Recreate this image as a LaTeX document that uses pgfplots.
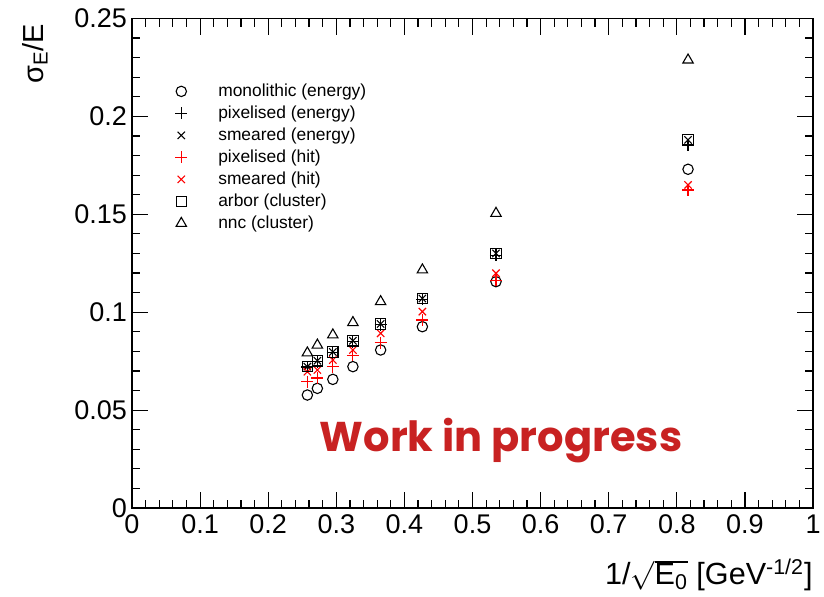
\documentclass[border=0pt]{standalone}
\usepackage{fontspec}
\setmainfont{Liberation Sans}
\newfontfamily\wipfont{Poppins}
\usepackage{pgfplots}
\pgfplotsset{compat=1.18}
\definecolor{wipred}{RGB}{200,34,34}
\begin{document}
\begin{tikzpicture}
\begin{axis}[
  scale only axis, width=340.5pt, height=244.75pt,
  xmin=0, xmax=1, ymin=0, ymax=0.25,
  xtick={0,0.1,0.2,0.3,0.4,0.5,0.6,0.7,0.8,0.9,1},
  xticklabels={0,0.1,0.2,0.3,0.4,0.5,0.6,0.7,0.8,0.9,1},
  ytick={0,0.05,0.1,0.15,0.2,0.25},
  yticklabels={0,0.05,0.1,0.15,0.2,0.25},
  minor x tick num=4, minor y tick num=4,
  tick align=inside, tick pos=both,
  major tick length=8pt, minor tick length=4pt,
  axis line style={line width=0.6pt},
  every tick/.style={line width=0.6pt, black},
  ticklabel style={font=\fontsize{13.5}{15}\selectfont},
  yticklabel style={xshift=1pt},
  xlabel={1/$\sqrt{\mbox{E\textsubscript{0}}}$ [GeV\textsuperscript{-1/2}]},
  xlabel style={font=\fontsize{15.3}{17}\selectfont, at={(axis description cs:1,-0.137)}, anchor=east, inner sep=0pt},
  ylabel={σ\textsubscript{E}/E},
  ylabel style={font=\fontsize{14.5}{16}\selectfont, at={(axis description cs:-0.1425,0.99)}, anchor=east, inner sep=0pt},
  legend style={at={(axis cs:0.063,0.2186)}, anchor=north west, draw=none, fill=none, inner sep=0pt,
    font=\fontsize{8.7}{10}\selectfont, row sep=0pt, column sep=14pt,
    nodes={inner sep=1.5pt, text height=6.5pt, text depth=1.5pt}},
  legend cell align=left,
  legend image code/.code={\draw[#1, only marks, mark repeat=2, mark phase=2] plot coordinates {(0cm,0cm) (0.3cm,0cm) (0.6cm,0cm)};},
]
\addplot[only marks, mark=o, mark size=2.6pt, black, mark options={line width=0.55pt}] coordinates {
(0.2575,0.0577) (0.2722,0.0611) (0.2949,0.0657) (0.3244,0.0722) (0.3651,0.0807) (0.4264,0.0926) (0.5345,0.1156) (0.8165,0.1730)};
\addlegendentry{monolithic (energy)}
\addplot[only marks, mark=+, mark size=3pt, black, mark options={line width=0.55pt}] coordinates {
(0.2575,0.0720) (0.2722,0.0748) (0.2949,0.0793) (0.3244,0.0850) (0.3651,0.0935) (0.4264,0.1065) (0.5345,0.1290) (0.8165,0.1854)};
\addlegendentry{pixelised (energy)}
\addplot[only marks, mark=x, mark size=2.6pt, black, mark options={line width=0.55pt}] coordinates {
(0.2575,0.0722) (0.2722,0.0752) (0.2949,0.0797) (0.3244,0.0854) (0.3651,0.0940) (0.4264,0.1070) (0.5345,0.1300) (0.8165,0.1880)};
\addlegendentry{smeared (energy)}
\addplot[only marks, mark=+, mark size=3pt, red, mark options={line width=0.55pt}] coordinates {
(0.2575,0.0645) (0.2722,0.0664) (0.2949,0.0722) (0.3244,0.0781) (0.3651,0.0844) (0.4264,0.0960) (0.5345,0.1164) (0.8165,0.1624)};
\addlegendentry{pixelised (hit)}
\addplot[only marks, mark=x, mark size=2.6pt, red, mark options={line width=0.55pt}] coordinates {
(0.2575,0.0696) (0.2722,0.0705) (0.2949,0.0756) (0.3244,0.0807) (0.3651,0.0892) (0.4264,0.1003) (0.5345,0.1199) (0.8165,0.1650)};
\addlegendentry{smeared (hit)}
\addplot[only marks, mark=square, mark size=2.6pt, black, mark options={line width=0.55pt}] coordinates {
(0.2575,0.0722) (0.2722,0.0752) (0.2949,0.0797) (0.3244,0.0854) (0.3651,0.0940) (0.4264,0.1071) (0.5345,0.1300) (0.8165,0.1880)};
\addlegendentry{arbor (cluster)}
\addplot[only marks, mark=triangle, mark size=3pt, black, mark options={line width=0.55pt}] coordinates {
(0.2575,0.0792) (0.2722,0.0832) (0.2949,0.0884) (0.3244,0.0947) (0.3651,0.1054) (0.4264,0.1216) (0.5345,0.1505) (0.8165,0.2288)};
\addlegendentry{nnc (cluster)}
\node[wipred, font=\wipfont\bfseries\fontsize{20.8}{24}\selectfont] at (axis cs:0.542,0.0347) {Work in progress};
\end{axis}
\pgfresetboundingbox
\path[use as bounding box] (-66pt,-44pt) rectangle (346pt,254pt);
\end{tikzpicture}
\end{document}
